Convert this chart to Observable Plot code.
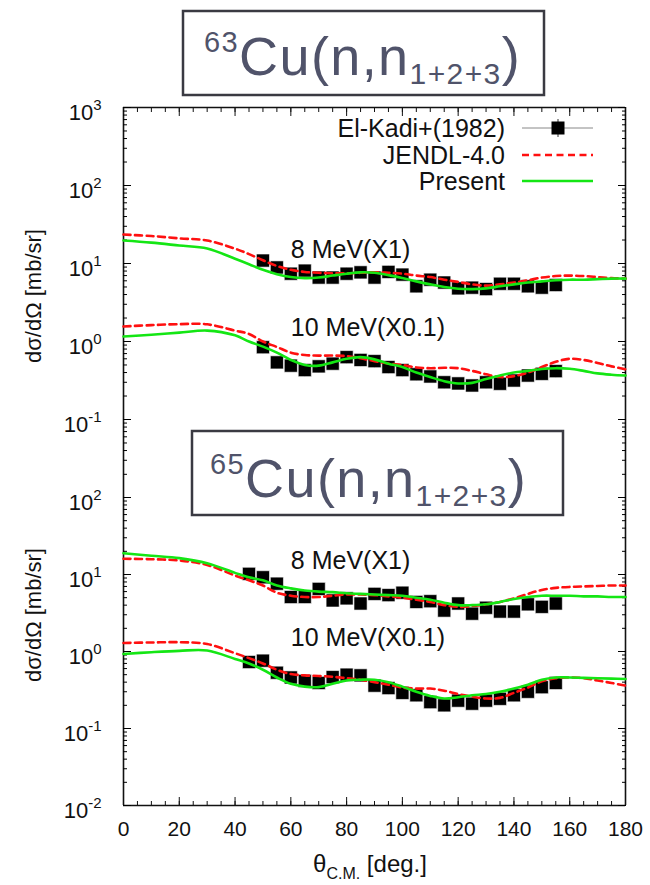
<!DOCTYPE html>
<html>
<head>
<meta charset="utf-8">
<script src="https://cdn.jsdelivr.net/npm/d3@7"></script>
<script src="https://cdn.jsdelivr.net/npm/@observablehq/plot@0.6"></script>
<style>
  html, body { margin: 0; padding: 0; background: #fff; }
  #wrap { position: relative; width: 650px; height: 885px; overflow: hidden; font-family: "Liberation Sans", Arial, sans-serif; }
  #wrap > svg { position: absolute; left: 0; top: 0; }
  #overlay { position: absolute; left: 0; top: 0; pointer-events: none; }
</style>
</head>
<body>
<div id="wrap"></div>
<script>
// ---------------- data ----------------
const angleExp63 = [50,55,60,65,70,75,80,85,90,95,100,105,110,115,120,125,130,135,140,145,150,155];
const exp63_8MeV  = [10.9,8.9,7.4,8.1,6.6,6.6,7.4,7.7,6.6,7.8,7.2,5.1,6.2,5.7,4.8,4.9,4.7,5.5,5.5,5.1,4.9,5.3];
const exp63_10MeV = [0.845,0.54,0.49,0.43,0.48,0.52,0.63,0.58,0.56,0.47,0.43,0.38,0.356,0.30,0.29,0.273,0.30,0.287,0.316,0.366,0.385,0.417];

const angleExp65 = [45,50,55,60,65,70,75,80,85,90,95,100,105,110,115,120,125,130,135,140,145,150,155];
const exp65_8MeV  = [10.2,9.2,7.6,5.1,5.1,6.5,4.6,4.9,4.2,5.6,5.4,5.8,4.4,4.5,3.4,4.2,3.1,3.7,3.3,3.3,4.1,3.8,4.2];
const exp65_10MeV = [0.73,0.76,0.53,0.46,0.415,0.39,0.465,0.50,0.49,0.36,0.335,0.29,0.27,0.22,0.20,0.23,0.21,0.23,0.243,0.27,0.30,0.344,0.39];

const expRelErr = 0.18;

const angleCalc = [0,10,20,30,40,45,50,55,60,65,70,75,80,85,90,95,100,105,110,115,120,125,130,135,140,145,150,155,160,165,170,175,180];
const jendl63_8MeV   = [23.5,22.5,21,19.7,15.5,13.2,11,9.3,8.3,7.8,7.6,7.5,7.5,7.6,7.7,7.6,7.4,7.0,6.7,6.2,5.8,5.4,5.2,5.4,5.7,6.1,6.6,6.9,7.0,6.9,6.7,6.5,6.4];
const present63_8MeV = [19.7,18.5,17,15.6,11.5,9.8,8.3,7.3,6.7,6.5,6.6,7.0,7.4,7.7,7.6,7.1,6.5,5.9,5.4,5.0,4.75,4.7,4.8,5.1,5.4,5.7,5.9,6.1,6.2,6.2,6.3,6.4,6.4];
const jendl63_10MeV   = [1.56,1.62,1.67,1.66,1.38,1.25,1.0,0.85,0.72,0.67,0.66,0.66,0.65,0.61,0.56,0.52,0.50,0.465,0.455,0.46,0.455,0.42,0.38,0.35,0.36,0.40,0.47,0.55,0.60,0.58,0.53,0.48,0.44];
const present63_10MeV = [1.16,1.22,1.30,1.38,1.2,1.0,0.86,0.72,0.58,0.50,0.49,0.54,0.60,0.63,0.59,0.52,0.47,0.40,0.35,0.31,0.29,0.295,0.33,0.366,0.40,0.42,0.445,0.455,0.447,0.42,0.39,0.375,0.366];
const jendl65_8MeV   = [16.0,15.8,15.2,13.3,9.7,8.4,7.2,5.8,5.3,5.1,5.1,5.3,5.5,5.5,5.4,5.2,5.0,4.7,4.4,4.0,3.8,3.9,4.1,4.4,4.9,5.6,6.3,6.7,6.9,7.0,7.1,7.2,7.2];
const present65_8MeV = [18.9,17.5,16.3,14,10.5,9.2,8.4,7.2,6.6,6.2,6.0,5.9,5.7,5.6,5.5,5.4,5.3,5.0,4.7,4.3,4.0,4.0,4.1,4.4,4.8,5.1,5.3,5.3,5.3,5.2,5.2,5.1,5.1];
const jendl65_10MeV   = [1.29,1.31,1.32,1.25,0.95,0.82,0.70,0.58,0.51,0.49,0.48,0.47,0.45,0.43,0.40,0.37,0.34,0.33,0.33,0.31,0.28,0.26,0.245,0.25,0.29,0.34,0.41,0.45,0.46,0.45,0.42,0.39,0.36];
const present65_10MeV = [0.93,0.98,1.02,1.03,0.80,0.70,0.58,0.46,0.38,0.35,0.345,0.38,0.42,0.43,0.43,0.40,0.35,0.30,0.265,0.245,0.255,0.27,0.28,0.30,0.33,0.37,0.43,0.46,0.46,0.455,0.45,0.445,0.44];

const curveLabels = ["8 MeV(X1)", "10 MeV(X0.1)"];
const labelAngle = [60, 60];
const labelValue63 = [15.1, 1.47];
const labelValue65 = [14.8, 1.48];

const legendNames = ["El-Kadi+(1982)", "JENDL-4.0", "Present"];
const titles = [["63", "Cu(n,n", "1+2+3", ")"], ["65", "Cu(n,n", "1+2+3", ")"]];
const yTitle = "dσ/dΩ [mb/sr]";
const xTicksMajor = [0,20,40,60,80,100,120,140,160,180];
const xTicksMinor = [0,5,10,15,20,25,30,35,40,45,50,55,60,65,70,75,80,85,90,95,100,105,110,115,120,125,130,135,140,145,150,155,160,165,170,175,180];
const decades = [1e-2,1e-1,1e0,1e1,1e2,1e3];

// ---------------- helpers ----------------
const RED = "#ff1010", GREEN = "#14e614";
const zipPts = (xs, ys) => xs.map((x, i) => ({x, y: ys[i]}));
const minorTicks = decades.flatMap(d => [2,3,4,5,6,7,8,9].map(k => k * d));
const within = (arr, [lo, hi]) => arr.filter(v => v >= lo * 0.9999 && v <= hi * 1.0001);
const fmtPow = d => "10^" + Math.round(Math.log10(d));
const blank = () => "";

function panel({ydomain, marginTop, marginBottom, exp8, exp10, expAngles, j8, j10, p8, p10, labelVals, top, titleDy}) {
  const yMaj = within(decades, ydomain);
  const yMin = within(minorTicks, ydomain);
  const e8 = zipPts(expAngles, exp8), e10 = zipPts(expAngles, exp10);
  const exps = [...e8, ...e10];
  const lab = curveLabels.map((t, i) => ({t, x: labelAngle[i], y: labelVals[i]}));
  const marks = [
    Plot.ruleX([0, 180], {stroke: "#111", strokeWidth: 1.6}),
    top ? Plot.ruleY([ydomain[1]], {stroke: "#111", strokeWidth: 1.6})
        : Plot.ruleY([ydomain[0]], {stroke: "#111", strokeWidth: 1.6}),
    Plot.axisX({anchor: top ? "top" : "bottom", ticks: xTicksMajor, tickSize: -8, tickFormat: blank, label: null, stroke: "#111"}),
    Plot.axisX({anchor: top ? "top" : "bottom", ticks: xTicksMinor, tickSize: -4, tickFormat: blank, label: null, stroke: "#111"}),
    Plot.axisY({anchor: "left", ticks: yMaj, tickSize: -8, tickFormat: blank, label: null}),
    Plot.axisY({anchor: "left", ticks: yMin, tickSize: -4, tickFormat: blank, label: null}),
    Plot.axisY({anchor: "right", ticks: yMaj, tickSize: -8, tickFormat: blank, label: null}),
    Plot.axisY({anchor: "right", ticks: yMin, tickSize: -4, tickFormat: blank, label: null}),
    Plot.axisY({anchor: "left", ticks: yMaj, tickSize: 0, tickPadding: 22, tickFormat: fmtPow, label: null, fontSize: 22, dy: 5, fill: "#111"}),
    Plot.text([yTitle], {frameAnchor: "left", rotate: -90, dx: -90, dy: titleDy, fontSize: 22, fill: "#111", textAnchor: "middle"}),
    Plot.ruleX(exps, {x: "x", y1: d => d.y * (1 - expRelErr), y2: d => d.y * (1 + expRelErr), stroke: "#222", strokeWidth: 1}),
    Plot.dot(exps, {x: "x", y: "y", symbol: "square", r: 7.4, fill: "#000", stroke: "#fff", strokeWidth: 0.6}),
    Plot.line(zipPts(angleCalc, j8), {x: "x", y: "y", stroke: RED, strokeWidth: 2.6, strokeDasharray: "7,4.5", curve: "catmull-rom"}),
    Plot.line(zipPts(angleCalc, j10), {x: "x", y: "y", stroke: RED, strokeWidth: 2.6, strokeDasharray: "7,4.5", curve: "catmull-rom"}),
    Plot.line(zipPts(angleCalc, p8), {x: "x", y: "y", stroke: GREEN, strokeWidth: 2.6, curve: "catmull-rom"}),
    Plot.line(zipPts(angleCalc, p10), {x: "x", y: "y", stroke: GREEN, strokeWidth: 2.6, curve: "catmull-rom"}),
    Plot.text(lab, {x: "x", y: "y", text: "t", textAnchor: "start", fontSize: 25, fill: "#111"})
  ];
  if (!top) {
    marks.push(Plot.axisX({anchor: "bottom", ticks: xTicksMajor, tickSize: 0, tickPadding: 16, label: null, fontSize: 21, fill: "#111"}));
  }
  const svg = Plot.plot({
    width: 650, height: 885,
    marginTop, marginBottom, marginLeft: 123, marginRight: 25,
    style: {background: "transparent", fontFamily: "Liberation Sans, Arial, sans-serif", overflow: "visible"},
    x: {domain: [0, 180]},
    y: {type: "log", domain: ydomain},
    marks
  });
  // superscript exponents on y tick labels
  const ns = "http://www.w3.org/2000/svg";
  svg.querySelectorAll('[aria-label="y-axis tick label"] text').forEach(t => {
    const m = t.textContent.match(/^10\^(.*)$/);
    if (!m) return;
    t.textContent = "";
    const a = document.createElementNS(ns, "tspan"); a.textContent = "10";
    const b = document.createElementNS(ns, "tspan"); b.textContent = m[1];
    b.setAttribute("font-size", "15"); b.setAttribute("dy", "-10");
    t.append(a, b);
  });
  return svg;
}

const wrap = document.getElementById("wrap");
wrap.append(panel({
  ydomain: [10 ** (3 - 361 / 78), 1e3], marginTop: 107, marginBottom: 885 - 468,
  exp8: exp63_8MeV, exp10: exp63_10MeV, expAngles: angleExp63,
  j8: jendl63_8MeV, j10: jendl63_10MeV, p8: present63_8MeV, p10: present63_10MeV,
  labelVals: labelValue63, top: true, titleDy: 8
}));
wrap.append(panel({
  ydomain: [1e-2, 10 ** (2 + 29 / 77)], marginTop: 468, marginBottom: 80,
  exp8: exp65_8MeV, exp10: exp65_10MeV, expAngles: angleExp65,
  j8: jendl65_8MeV, j10: jendl65_10MeV, p8: present65_8MeV, p10: present65_10MeV,
  labelVals: labelValue65, top: false, titleDy: -22
}));

// ---------------- overlay: titles, legend, x title ----------------
const ov = d3.select(wrap).append("svg").attr("id", "overlay").attr("width", 650).attr("height", 885)
  .style("font-family", "Liberation Sans, Arial, sans-serif");

const boxes = [{x: 183, y: 11, w: 361, h: 84, tx: 204, base: 75}, {x: 192, y: 431, w: 371, h: 84, tx: 210, base: 497}];
boxes.forEach((b, i) => {
  ov.append("rect").attr("x", b.x).attr("y", b.y).attr("width", b.w).attr("height", b.h)
    .attr("fill", "#fff").attr("stroke", "#3a3a42").attr("stroke-width", 2.5);
  const t = ov.append("text").attr("x", b.tx).attr("y", b.base).attr("fill", "#50536a")
    .attr("font-size", 54).attr("letter-spacing", 1.4);
  const [sup, main, sub, close] = titles[i];
  t.append("tspan").attr("font-size", 29).attr("dy", -23).text(sup);
  t.append("tspan").attr("dy", 23).text(main);
  t.append("tspan").attr("font-size", 30).attr("dy", 9).text(sub);
  t.append("tspan").attr("dy", -9).text(close);
});

// legend
const legY = [128, 155, 181];
legendNames.forEach((n, i) => {
  ov.append("text").attr("x", 505).attr("y", legY[i] + 9).attr("text-anchor", "end")
    .attr("font-size", 25).attr("fill", "#111").text(n);
});
ov.append("line").attr("x1", 522).attr("x2", 593).attr("y1", legY[0]).attr("y2", legY[0]).attr("stroke", "#888").attr("stroke-width", 1);
ov.append("line").attr("x1", 558).attr("x2", 558).attr("y1", legY[0] - 9).attr("y2", legY[0] + 9).attr("stroke", "#333").attr("stroke-width", 1);
ov.append("rect").attr("x", 551.5).attr("y", legY[0] - 6.5).attr("width", 13).attr("height", 13).attr("fill", "#000");
ov.append("line").attr("x1", 522).attr("x2", 593).attr("y1", legY[1]).attr("y2", legY[1]).attr("stroke", RED).attr("stroke-width", 2.6).attr("stroke-dasharray", "7,4.5");
ov.append("line").attr("x1", 522).attr("x2", 593).attr("y1", legY[2]).attr("y2", legY[2]).attr("stroke", GREEN).attr("stroke-width", 2.6);

// x axis title
const xt = ov.append("text").attr("x", 370).attr("y", 872).attr("text-anchor", "middle").attr("font-size", 24).attr("fill", "#111");
xt.append("tspan").text("θ");
xt.append("tspan").attr("font-size", 16).attr("dy", 7).text("C.M.");
xt.append("tspan").attr("dy", -7).text(" [deg.]");
</script>
</body>
</html>
